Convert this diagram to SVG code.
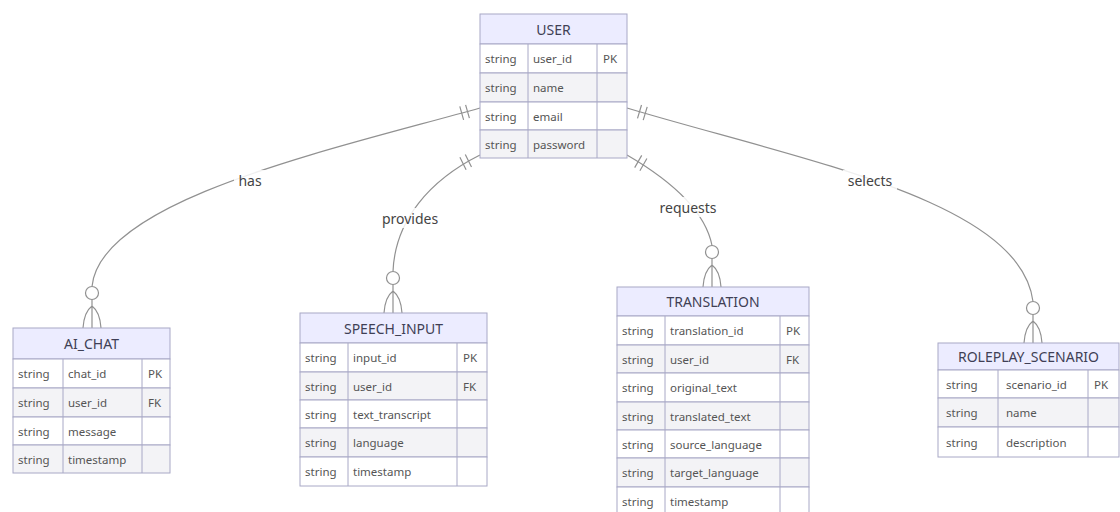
<svg xmlns="http://www.w3.org/2000/svg" width="1120" height="512" viewBox="0 0 1120 512">
<style>
.hdr{fill:#ECECFF;stroke:#A8A8C6;stroke-width:1}
.odd{fill:#FFFFFF;stroke:#A8A8C6;stroke-width:1}
.even{fill:#F3F3F6;stroke:#A8A8C6;stroke-width:1}
.col{stroke:#A8A8C6;stroke-width:1}
.ttl{font-family:"Noto Sans","DejaVu Sans",sans-serif;font-size:14px;fill:#3F3F55;text-anchor:middle;dominant-baseline:central}
.at{font-family:"Noto Sans","DejaVu Sans",sans-serif;font-size:11.5px;fill:#555;dominant-baseline:central}
.rel{fill:none;stroke:#919191;stroke-width:1.2}
.mk{fill:none;stroke:#919191;stroke-width:1.2}
.lblbg{fill:#FFFFFF;opacity:0.85}
.lbl{font-family:"Noto Sans","DejaVu Sans",sans-serif;font-size:14px;fill:#444;text-anchor:middle;dominant-baseline:central}
</style>
<defs>
<g id="zeroMany">
<circle cx="0" cy="-35" r="6.5" fill="#fff" stroke="#919191" stroke-width="1.2"/>
<path d="M0,-28.5 L0,0 M-9,0 Q-8,-16 0,-22 Q8,-16 9,0" fill="none" stroke="#919191" stroke-width="1.2"/>
</g>
</defs>

<g id="connectors">
<path class="rel" d="M480,108 C330,150 100,200 92,286.5"/>
<path class="rel" d="M480,155 C430,180 395,220 393,271.5"/>
<path class="rel" d="M627,155 C670,180 705,210 712,245.5"/>
<path class="rel" d="M627,108 C800,160 1020,200 1033,301.5"/>
<path class="mk" d="M465.6,104.8 L469.4,118.2 M459.8,106.4 L463.6,119.8"/>
<path class="mk" d="M465.3,154.5 L471.5,167.1 M459.9,157.2 L466.1,169.8"/>
<path class="mk" d="M641.7,155.4 L634.7,167.6 M646.9,158.5 L639.9,170.7"/>
<path class="mk" d="M641.5,105 L637.5,118.4 M647.2,106.8 L643.2,120.2"/>
<use href="#zeroMany" x="92" y="328"/>
<use href="#zeroMany" x="393" y="313"/>
<use href="#zeroMany" x="712" y="287"/>
<use href="#zeroMany" x="1033" y="343"/>
<rect class="lblbg" x="234" y="170" width="32" height="20"/>
<text class="lbl" x="250" y="180">has</text>
<rect class="lblbg" x="378" y="208" width="64" height="20"/>
<text class="lbl" x="410" y="218">provides</text>
<rect class="lblbg" x="655" y="197" width="66" height="20"/>
<text class="lbl" x="688" y="207">requests</text>
<rect class="lblbg" x="843" y="170" width="54" height="20"/>
<text class="lbl" x="870" y="180">selects</text>
</g>

<g id="USER">
<rect class="hdr" x="480" y="14" width="147" height="30"/>
<text class="ttl" x="553.5" y="29">USER</text>
<rect class="odd" x="480" y="44" width="147" height="29"/>
<rect class="even" x="480" y="73" width="147" height="29"/>
<rect class="odd" x="480" y="102" width="147" height="28"/>
<rect class="even" x="480" y="130" width="147" height="28"/>
<line class="col" x1="528" y1="44" x2="528" y2="158"/>
<line class="col" x1="597" y1="44" x2="597" y2="158"/>
<text class="at" x="485" y="58.5">string</text><text class="at" x="533" y="58.5">user_id</text><text class="at" x="603" y="58.5">PK</text>
<text class="at" x="485" y="87.5">string</text><text class="at" x="533" y="87.5">name</text>
<text class="at" x="485" y="116">string</text><text class="at" x="533" y="116">email</text>
<text class="at" x="485" y="144">string</text><text class="at" x="533" y="144">password</text>
</g>

<g id="AI_CHAT">
<rect class="hdr" x="13" y="328" width="157" height="31"/>
<text class="ttl" x="91.5" y="343.5">AI_CHAT</text>
<rect class="odd" x="13" y="359" width="157" height="29"/>
<rect class="even" x="13" y="388" width="157" height="29"/>
<rect class="odd" x="13" y="417" width="157" height="28"/>
<rect class="even" x="13" y="445" width="157" height="28"/>
<line class="col" x1="63" y1="359" x2="63" y2="473"/>
<line class="col" x1="142" y1="359" x2="142" y2="473"/>
<text class="at" x="18" y="373.5">string</text><text class="at" x="68" y="373.5">chat_id</text><text class="at" x="148" y="373.5">PK</text>
<text class="at" x="18" y="402.5">string</text><text class="at" x="68" y="402.5">user_id</text><text class="at" x="148" y="402.5">FK</text>
<text class="at" x="18" y="431">string</text><text class="at" x="68" y="431">message</text>
<text class="at" x="18" y="459">string</text><text class="at" x="68" y="459">timestamp</text>
</g>

<g id="SPEECH_INPUT">
<rect class="hdr" x="300" y="313" width="187" height="30"/>
<text class="ttl" x="393.5" y="328">SPEECH_INPUT</text>
<rect class="odd" x="300" y="343" width="187" height="29"/>
<rect class="even" x="300" y="372" width="187" height="28"/>
<rect class="odd" x="300" y="400" width="187" height="28"/>
<rect class="even" x="300" y="428" width="187" height="29"/>
<rect class="odd" x="300" y="457" width="187" height="29"/>
<line class="col" x1="348" y1="343" x2="348" y2="486"/>
<line class="col" x1="457" y1="343" x2="457" y2="486"/>
<text class="at" x="305" y="357.5">string</text><text class="at" x="353" y="357.5">input_id</text><text class="at" x="463" y="357.5">PK</text>
<text class="at" x="305" y="386">string</text><text class="at" x="353" y="386">user_id</text><text class="at" x="463" y="386">FK</text>
<text class="at" x="305" y="414">string</text><text class="at" x="353" y="414">text_transcript</text>
<text class="at" x="305" y="442.5">string</text><text class="at" x="353" y="442.5">language</text>
<text class="at" x="305" y="471.5">string</text><text class="at" x="353" y="471.5">timestamp</text>
</g>

<g id="TRANSLATION">
<rect class="hdr" x="617" y="287" width="192" height="29"/>
<text class="ttl" x="713" y="301.5">TRANSLATION</text>
<rect class="odd" x="617" y="316" width="192" height="29"/>
<rect class="even" x="617" y="345" width="192" height="28"/>
<rect class="odd" x="617" y="373" width="192" height="29"/>
<rect class="even" x="617" y="402" width="192" height="28"/>
<rect class="odd" x="617" y="430" width="192" height="28"/>
<rect class="even" x="617" y="458" width="192" height="29"/>
<rect class="odd" x="617" y="487" width="192" height="28"/>
<line class="col" x1="665" y1="316" x2="665" y2="515"/>
<line class="col" x1="780" y1="316" x2="780" y2="515"/>
<text class="at" x="622" y="330.5">string</text><text class="at" x="670" y="330.5">translation_id</text><text class="at" x="786" y="330.5">PK</text>
<text class="at" x="622" y="359">string</text><text class="at" x="670" y="359">user_id</text><text class="at" x="786" y="359">FK</text>
<text class="at" x="622" y="387.5">string</text><text class="at" x="670" y="387.5">original_text</text>
<text class="at" x="622" y="416">string</text><text class="at" x="670" y="416">translated_text</text>
<text class="at" x="622" y="444">string</text><text class="at" x="670" y="444">source_language</text>
<text class="at" x="622" y="472.5">string</text><text class="at" x="670" y="472.5">target_language</text>
<text class="at" x="622" y="501">string</text><text class="at" x="670" y="501">timestamp</text>
</g>

<g id="ROLEPLAY_SCENARIO">
<rect class="hdr" x="938" y="343" width="181" height="27"/>
<text class="ttl" x="1028.5" y="356.5">ROLEPLAY_SCENARIO</text>
<rect class="odd" x="938" y="370" width="181" height="28"/>
<rect class="even" x="938" y="398" width="181" height="29"/>
<rect class="odd" x="938" y="427" width="181" height="30"/>
<line class="col" x1="998" y1="370" x2="998" y2="457"/>
<line class="col" x1="1088" y1="370" x2="1088" y2="457"/>
<text class="at" x="946" y="384">string</text><text class="at" x="1006" y="384">scenario_id</text><text class="at" x="1094" y="384">PK</text>
<text class="at" x="946" y="412.5">string</text><text class="at" x="1006" y="412.5">name</text>
<text class="at" x="946" y="442">string</text><text class="at" x="1006" y="442">description</text>
</g>
</svg>
